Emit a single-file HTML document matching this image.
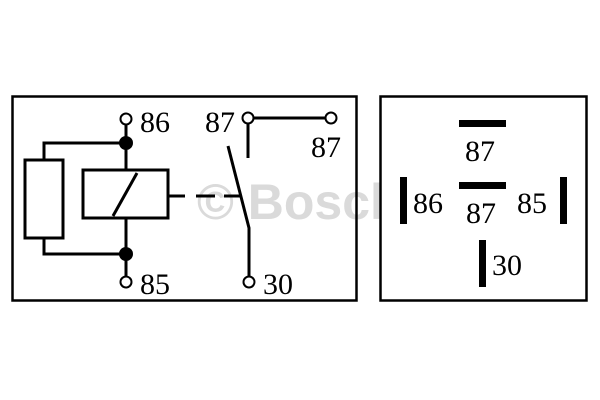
<!DOCTYPE html>
<html><head><style>body{margin:0;background:#fff}svg{display:block}</style></head><body>
<svg width="600" height="400" xmlns="http://www.w3.org/2000/svg" font-family="Liberation Serif, serif" font-size="30">
<rect width="600" height="400" fill="#fff"/>
<text x="197" y="219" font-family="Liberation Sans, sans-serif" font-weight="bold" font-size="50" fill="#dadada">© Bosch</text>
<rect x="380.5" y="96.5" width="206" height="204" fill="#fff"/>
<g fill="none" stroke="#000" stroke-width="3">
<rect x="12.5" y="96.5" width="344" height="204" stroke-width="2.5"/>
<rect x="380.5" y="96.5" width="206" height="204" stroke-width="2.5"/>
<line x1="126" y1="125" x2="126" y2="170"/>
<line x1="126" y1="218" x2="126" y2="277"/>
<rect x="83" y="170" width="85" height="48"/>
<line x1="113" y1="216" x2="137" y2="173"/>
<polyline points="126,143 44,143 44,160"/>
<polyline points="44,238 44,254 126,254"/>
<rect x="25" y="160" width="38" height="78"/>
<line x1="168" y1="196" x2="185" y2="196"/>
<line x1="196" y1="196" x2="215" y2="196"/>
<line x1="224" y1="196" x2="240" y2="196"/>
<line x1="253" y1="118" x2="326" y2="118"/>
<line x1="248" y1="123" x2="248" y2="158"/>
<polyline points="228,146 249,228 249,277"/>
<circle cx="126" cy="119" r="5.5" stroke-width="2"/>
<circle cx="126" cy="282" r="5.5" stroke-width="2"/>
<circle cx="248" cy="118" r="5.5" stroke-width="2"/>
<circle cx="331" cy="118" r="5.5" stroke-width="2"/>
<circle cx="249" cy="282" r="5.5" stroke-width="2"/>
</g>
<circle cx="126" cy="143" r="7"/>
<circle cx="126" cy="254" r="7"/>
<text x="140" y="132">86</text>
<text x="140" y="294">85</text>
<text x="205" y="132">87</text>
<text x="311" y="157">87</text>
<text x="263" y="294">30</text>
<rect x="459" y="120" width="47" height="7"/>
<rect x="459" y="182" width="47" height="7"/>
<rect x="400" y="177" width="7" height="47"/>
<rect x="560" y="177" width="7" height="47"/>
<rect x="479" y="240" width="7" height="47"/>
<text x="465" y="161">87</text>
<text x="466" y="223">87</text>
<text x="413" y="213">86</text>
<text x="517" y="213">85</text>
<text x="492" y="275">30</text>
</svg>
</body></html>
